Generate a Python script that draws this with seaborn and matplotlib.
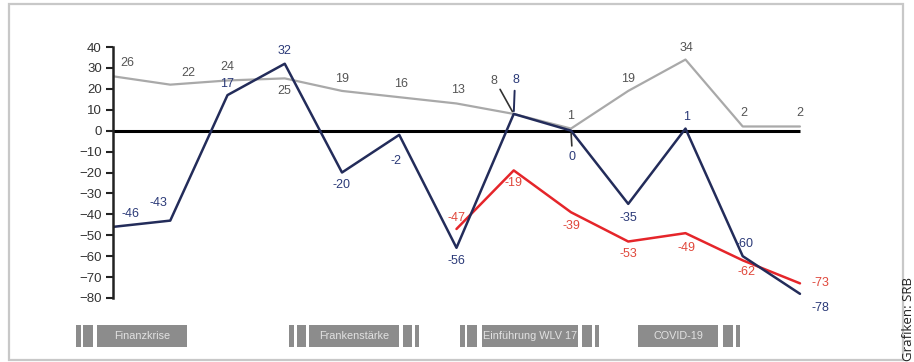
import numpy as np
import pandas as pd
import matplotlib
matplotlib.use("Agg")
import matplotlib.pyplot as plt
from matplotlib.patches import Rectangle
import seaborn as sns

# values (13 points per series, red starts at point 7)
grey_vals = [26, 22, 24, 25, 19, 16, 13, 8, 1, 19, 34, 2, 2]
navy_vals = [-46, -43, 17, 32, -20, -2, -56, 8, 0, -35, 1, -60, -78]
red_vals = [np.nan] * 6 + [-47, -19, -39, -53, -49, -62, -73]
idx = list(range(len(grey_vals)))

yticks = list(range(-80, 41, 10))
periods = ["Finanzkrise", "Frankenstärke", "Einführung WLV 17", "COVID-19"]

GREY = "#a9a9a9"
NAVY = "#232c5a"
RED = "#e5252a"

sns.set_style("white")
plt.rcParams["font.family"] = ["Liberation Sans", "DejaVu Sans"]

fig = plt.figure(figsize=(9.14, 3.62), dpi=100)
ax = fig.add_axes([113 / 914, 64 / 362, 715.6 / 914, 251 / 362])

df = pd.DataFrame({"x": idx, "grey": grey_vals, "navy": navy_vals, "red": red_vals})
sns.lineplot(data=df, x="x", y="grey", color=GREY, lw=1.6, ax=ax)
sns.lineplot(data=df, x="x", y="red", color=RED, lw=1.8, ax=ax)
sns.lineplot(data=df, x="x", y="navy", color=NAVY, lw=1.8, ax=ax)

# zero line
ax.plot([0, 12], [0, 0], color="black", lw=2.2, zorder=1, solid_capstyle="butt")

ax.set_xlim(0, 12.5)
ax.set_ylim(-80, 40)
ax.set_yticks(yticks)
ax.set_xticks([])
ax.set_xlabel("")
ax.set_ylabel("")
for s in ["top", "right", "bottom"]:
    ax.spines[s].set_visible(False)
ax.spines["left"].set_color("#222222")
ax.spines["left"].set_linewidth(1.8)
ax.tick_params(axis="y", direction="out", length=5, width=1.5, color="#222222",
               labelsize=9.5, labelcolor="#333333", pad=3, left=True)

# data labels: offsets in pixels (dx, dy)
grey_off = [(14, 13), (18, 12), (0, 13), (0, -13), (0, 12), (2, 13), (2, 13),
            (-20, 33), (0, 13), (0, 12), (1, 12), (1, 13), (0, 13)]
navy_off = [(17, 13), (-12, 18), (0, 11), (0, 13), (0, -12), (-3, -26), (0, -13),
            (2, 34), (1, -26), (0, -14), (1, 12), (2, 12), (20, -14)]
red_off = [None] * 6 + [(0, 11), (0, -13), (0, -14), (0, -12), (1, -15), (4, -12), (20, 0)]

def put_labels(vals, offs, color):
    for x, v, o in zip(idx, vals, offs):
        if o is None or np.isnan(v):
            continue
        ax.annotate(f"{int(v)}", (x, v), xytext=o, textcoords="offset pixels",
                    ha="center", va="center", fontsize=9, color=color,
                    annotation_clip=False)

put_labels(grey_vals, grey_off, "#555555")
put_labels(navy_vals, navy_off, "#2b3a78")
put_labels(red_vals, red_off, "#e0483c")

# leader lines at point 7 and 8
ax.annotate("", (7, grey_vals[7]), xytext=(-15, 27), textcoords="offset pixels",
            arrowprops=dict(arrowstyle="-", color="#333333", lw=1.2))
ax.annotate("", (7, navy_vals[7]), xytext=(1, 26), textcoords="offset pixels",
            arrowprops=dict(arrowstyle="-", color=NAVY, lw=1.4))
ax.annotate("", (8, navy_vals[8]), xytext=(1, -18), textcoords="offset pixels",
            arrowprops=dict(arrowstyle="-", color="#333333", lw=1.2))

# period strip along the bottom (pixel coordinates)
strip = fig.add_axes([0, (362 - 347) / 362, 1, 22 / 362])
strip.set_xlim(0, 914)
strip.set_ylim(0, 1)
strip.axis("off")
BOX = "#8c8c8c"
bars = [(76, 5), (83, 10), (289, 5), (297, 9), (403, 9), (415, 4),
        (460, 5), (467, 10), (582, 10), (595, 4), (723, 10), (736, 4)]
for x0, w in bars:
    strip.add_patch(Rectangle((x0, 0), w, 1, color=BOX, lw=0))
boxes = [(97, 90), (309, 90), (482, 96), (638, 80)]
for (x0, w), name in zip(boxes, periods):
    strip.add_patch(Rectangle((x0, 0), w, 1, color=BOX, lw=0))
    strip.text(x0 + w / 2, 0.5, name, ha="center", va="center",
               fontsize=7.8, color="#e2e2e2")

# frame
fig.patches.append(Rectangle((9 / 914, 2 / 362), 894 / 914, 356 / 362,
                             transform=fig.transFigure, fill=False,
                             edgecolor="#c8c8c8", lw=1.6))

fig.text(909 / 914, 1 / 362, "Grafiken: SRB", rotation=90, ha="center",
         va="bottom", fontsize=9.5, color="#222222", family=["Open Sans", "DejaVu Sans"])

fig.savefig("out.png", dpi=100)
